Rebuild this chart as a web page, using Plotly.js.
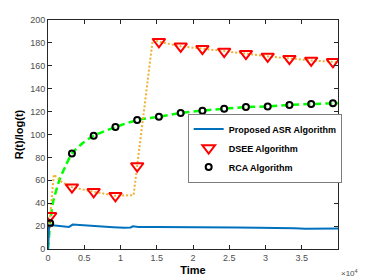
<!DOCTYPE html>
<html>
<head>
<meta charset="utf-8">
<script src="https://cdn.plot.ly/plotly-3.0.1.min.js"></script>
<style>html,body{margin:0;padding:0;background:#fff;}#chart{width:374px;height:280px;}</style>
</head>
<body>
<div id="chart"></div>
<script>
// ---- data ----
var asrX = [0, 150, 300, 1000, 2000, 2900, 3400, 5000, 7000, 9000, 10500, 11400, 11700, 12500, 15000, 18000, 20000, 23000, 26000, 29000, 32000, 34000, 35500, 37000, 40000];
var asrY = [0, 20, 21, 20.5, 20, 19.3, 21.3, 20.5, 19.8, 19, 18.5, 18.8, 19.8, 19.3, 19.3, 19, 19.2, 18.8, 18.8, 18.6, 18.5, 18.2, 17.6, 17.7, 18];

var dseeLineX = [0, 300, 800, 2000, 3300, 5000, 6300, 8000, 9300, 11800, 14450, 15300, 18300, 21300, 24300, 27300, 30300, 33300, 36300, 39300, 40000];
var dseeLineY = [0, 29, 65, 58, 54, 51.5, 50, 48, 46.5, 47, 183, 181, 177, 175, 172.5, 170.6, 168.2, 166.2, 164.7, 163.5, 163];

var markX = [300, 3300, 6300, 9300, 12300, 15300, 18300, 21300, 24300, 27300, 30300, 33300, 36300, 39300];
var dseeMarkY = [29, 54, 50, 46.5, 72.5, 181, 177, 175, 172.5, 170.6, 168.2, 166.2, 164.7, 163.5];
var rcaMarkY = [22.4, 83.5, 99, 106.5, 112.6, 115.5, 118.8, 120.8, 122.5, 124, 124.5, 125.8, 126.6, 127.2];

var rcaLineX = [0, 300, 660, 1590, 2500, 3300, 4800, 6300, 9300, 12300, 15300, 18300, 21300, 24300, 27300, 30300, 33300, 36300, 39300, 40000];
var rcaLineY = [0, 22.4, 40, 60.5, 73.6, 83.5, 92.5, 99, 106.5, 112.6, 115.5, 118.8, 120.8, 122.5, 124, 124.5, 125.8, 126.6, 127.2, 127.4];

var xTickVals = [0, 5000, 10000, 15000, 20000, 25000, 30000, 35000];
var xTickText = ['0', '0.5', '1', '1.5', '2', '2.5', '3', '3.5'];
var names = ['Proposed ASR Algorithm', 'DSEE Algorithm', 'RCA Algorithm'];

// ---- traces ----
var traces = [
  {x: rcaLineX, y: rcaLineY, mode: 'lines', line: {color: '#00ff00', width: 2.5, dash: '7px,4px', shape: 'spline', smoothing: 0.6}, showlegend: false, hoverinfo: 'skip'},
  {x: dseeLineX, y: dseeLineY, mode: 'lines', line: {color: '#f0b030', width: 2, dash: '2px,2px'}, showlegend: false, hoverinfo: 'skip'},
  {x: asrX, y: asrY, mode: 'lines', name: names[0], line: {color: '#0072bd', width: 2}},
  {x: markX, y: dseeMarkY, mode: 'markers', name: names[1], marker: {symbol: 'triangle-down-open', size: 11, color: '#ff0000', line: {width: 2, color: '#ff0000'}}},
  {x: markX, y: rcaMarkY, mode: 'markers', name: names[2], marker: {symbol: 'circle-open', size: 6, color: '#000000', line: {width: 2, color: '#000000'}}}
];

var fam = 'Liberation Sans, Arial, sans-serif';
var axisCommon = {
  showgrid: false, zeroline: false, showline: true, linecolor: '#262626', linewidth: 1,
  mirror: 'ticks', ticks: 'inside', ticklen: 4, tickcolor: '#262626',
  tickfont: {family: fam, size: 9, color: '#4d4d4d'}
};

var layout = {
  width: 374, height: 280,
  margin: {l: 48, r: 36, t: 20, b: 31},
  paper_bgcolor: '#ffffff', plot_bgcolor: '#ffffff',
  showlegend: true,
  legend: {
    x: 0.483, y: 0.59, xanchor: 'left', yanchor: 'top',
    bgcolor: '#ffffff', bordercolor: '#262626', borderwidth: 0.6,
    font: {family: fam, size: 9, color: '#000', weight: 'bold'},
    tracegroupgap: 0, itemwidth: 30
  },
  xaxis: Object.assign({}, axisCommon, {
    range: [0, 40000], tickvals: xTickVals, ticktext: xTickText,
    title: {text: 'Time', font: {family: fam, size: 11, color: '#000', weight: 'bold'}, standoff: 4}
  }),
  yaxis: Object.assign({}, axisCommon, {
    range: [0, 200], dtick: 20,
    title: {text: 'R(t)/log(t)', font: {family: fam, size: 11, color: '#000', weight: 'bold'}, standoff: 4}
  }),
  annotations: [
    {xref: 'paper', yref: 'paper', x: 1.04, y: -0.075, xanchor: 'center', yanchor: 'top', showarrow: false,
     text: '×10<sup>4</sup>', font: {family: fam, size: 8, color: '#4d4d4d'}}
  ]
};

Plotly.newPlot('chart', traces, layout, {staticPlot: true, displayModeBar: false});
</script>
</body>
</html>
